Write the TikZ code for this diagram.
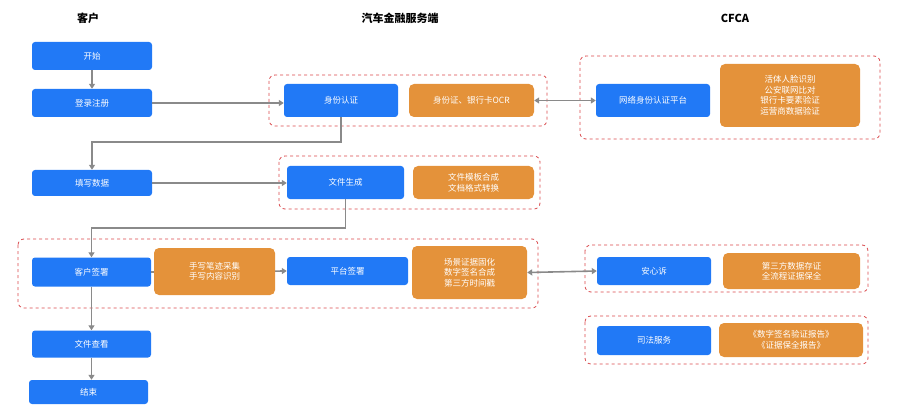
\documentclass[tikz,border=0pt]{standalone}
\usepackage{fontspec}
\setmainfont{Noto Sans CJK SC}
\usetikzlibrary{arrows.meta}
\definecolor{bl}{HTML}{2179F6}
\definecolor{og}{HTML}{E4923A}
\definecolor{gr}{HTML}{8A8A8A}
\definecolor{rd}{HTML}{D9474A}
\begin{document}
\begin{tikzpicture}[x=1pt,y=-1pt,
 bbox/.style={fill=bl,rounded corners=3pt,text=white,font=\fontsize{8.5}{10}\selectfont,align=center,inner sep=0pt},
 obox/.style={fill=og,rounded corners=5pt,text=white,font=\fontsize{8.5}{10.5}\selectfont,align=center,inner sep=0pt},
 grp/.style={draw=rd,dashed,rounded corners=6pt,line width=0.8pt},
 con/.style={draw=gr,line width=1.6pt,-{Triangle[length=5pt,width=6pt]}},
 bcon/.style={draw=gr,line width=1.6pt,{Triangle[length=5pt,width=6pt]}-{Triangle[length=5pt,width=6pt]}},
 hd/.style={font=\fontsize{11}{13}\selectfont\bfseries}]
\useasboundingbox (0,0) rectangle (900,409);
\node[hd] (h1) at (88,18) {客户};
\node[hd] (h2) at (400,18) {汽车金融服务端};
\node[hd] (h3) at (735,18) {CFCA};
\draw[grp] (269,75) rectangle (547,126);
\draw[grp] (279,156) rectangle (540,209);
\draw[grp] (18,239) rectangle (538,308);
\draw[grp] (580,56) rectangle (880,139);
\draw[grp] (585,245) rectangle (868,292);
\draw[grp] (585,316) rectangle (868,364);
\node[bbox,minimum width=120,minimum height=28] (start) at (92,56) {开始};
\node[bbox,minimum width=120,minimum height=28] (login) at (92,103) {登录注册};
\node[bbox,minimum width=120,minimum height=26] (fill) at (92,183) {填写数据};
\node[bbox,minimum width=119,minimum height=29] (csign) at (91.5,272) {客户签署};
\node[bbox,minimum width=119,minimum height=27] (view) at (91.5,344) {文件查看};
\node[bbox,minimum width=119,minimum height=24] (end) at (88.5,392) {结束};
\node[bbox,minimum width=114,minimum height=33] (auth) at (341,100.5) {身份认证};
\node[obox,minimum width=125,minimum height=33] (ocr) at (471.5,100.5) {身份证、银行卡OCR};
\node[bbox,minimum width=117,minimum height=33] (gen) at (345.5,182.5) {文件生成};
\node[obox,minimum width=121,minimum height=33] (tpl) at (473.5,182.5) {文件模板合成\\文档格式转换};
\node[bbox,minimum width=121,minimum height=28] (psign) at (347.5,271) {平台签署};
\draw[con] (csign.east) -- (psign.west);
\node[obox,minimum width=121,minimum height=47] (hw) at (214.5,271.5) {手写笔迹采集\\手写内容识别};
\node[obox,minimum width=115,minimum height=53] (scene) at (469.5,272.5) {场景证据固化\\数字签名合成\\第三方时间戳};
\node[bbox,minimum width=114,minimum height=33] (net) at (653,100.5) {网络身份认证平台};
\node[obox,minimum width=140,minimum height=63] (face) at (790,95.5) {活体人脸识别\\公安联网比对\\银行卡要素验证\\运营商数据验证};
\node[bbox,minimum width=114,minimum height=28] (axs) at (654,271) {安心诉};
\node[obox,minimum width=137,minimum height=36] (store) at (791.5,271) {第三方数据存证\\全流程证据保全};
\node[bbox,minimum width=114,minimum height=29] (jud) at (654,340.5) {司法服务};
\node[obox,minimum width=144,minimum height=34] (rep) at (791,340) {《数字签名验证报告》\\《证据保全报告》};
\draw[con] (start) -- (login);
\draw[con] (login.east) -- (login.east -| auth.west);
\draw[con] (auth.south) |- (92,142) -- (fill.north);
\draw[con] (fill.east) -- (fill.east -| gen.west);
\draw[con] (gen.south) |- (91.5,228) -- (csign.north);
\draw[con] (csign) -- (view);
\draw[con] (view.south) -- (view.south |- end.north);
\draw[bcon] (ocr.east) -- (net.west);
\draw[bcon] (scene.east) -- (axs.west);
\end{tikzpicture}
\end{document}
